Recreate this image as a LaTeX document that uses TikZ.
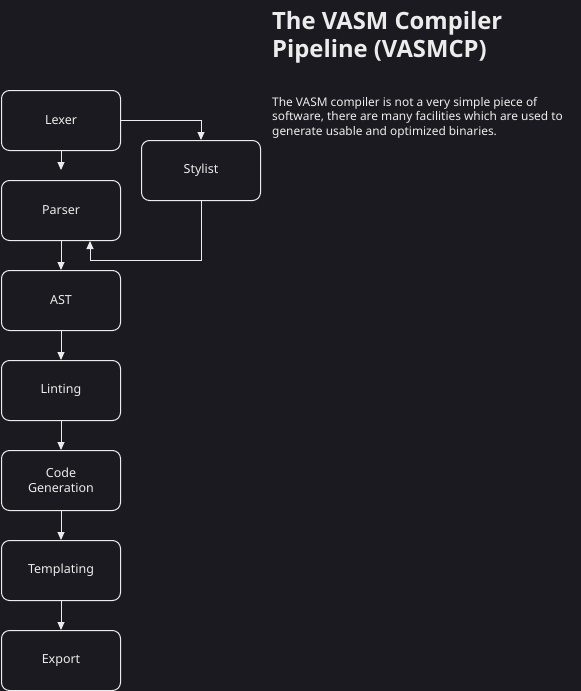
\documentclass[tikz,border=0pt]{standalone}
\usepackage{fontspec}
\setmainfont{Noto Sans}
\newfontfamily\titlefont{Open Sans}
\usetikzlibrary{arrows.meta}
\definecolor{bg}{HTML}{1B1A20}
\definecolor{fg}{HTML}{ECECEC}
\tikzset{
  stage/.style={draw=fg, line width=1pt, rounded corners=8pt, minimum width=119pt, minimum height=60pt, inner sep=2pt, text=fg, align=center, font=\fontsize{12.5}{15}\selectfont, anchor=north west},
  link/.style={draw=fg, line width=1pt, -{Triangle[length=8pt,width=7pt]}}
}
\begin{document}
\begin{tikzpicture}[x=1pt,y=-1pt]
\fill[bg] (0,0) rectangle (581,691);
\useasboundingbox (0,0) rectangle (581,691);
\node[stage] (lexer) at (1,90) {Lexer};
\node[stage] (parser) at (1,180) {Parser};
\node[stage] (ast) at (1,270) {AST};
\node[stage] (lint) at (1,360) {Linting};
\node[stage] (code) at (1,450) {Code\\Generation};
\node[stage] (tmpl) at (1,540) {Templating};
\node[stage] (export) at (1,630) {Export};
\node[stage] (stylist) at (141,140) {Stylist};
\coordinate (lp) at (61,170);
\coordinate (sp) at (90,260);
\node[anchor=north west, inner sep=0pt, align=left, text=fg, font=\titlefont\bfseries\fontsize{23.8}{28.5}\selectfont] (title) at (272,11) {The VASM Compiler\\Pipeline (VASMCP)};
\node[anchor=north west, inner sep=0pt, align=left, text=fg, font=\fontsize{11.9}{14.6}\selectfont] (desc) at (272,97) {The VASM compiler is not a very simple piece of\\software, there are many facilities which are used to\\generate usable and optimized binaries.};
\draw[link] (lexer.south) -- (lp);
\draw[link] (lexer.east) -| (stylist.north);
\draw[link] (stylist.south) |- (sp) -- (sp |- parser.south);
\draw[link] (parser) -- (ast);
\draw[link] (ast) -- (lint);
\draw[link] (lint) -- (code);
\draw[link] (code) -- (tmpl);
\draw[link] (tmpl) -- (export);
\end{tikzpicture}
\end{document}
